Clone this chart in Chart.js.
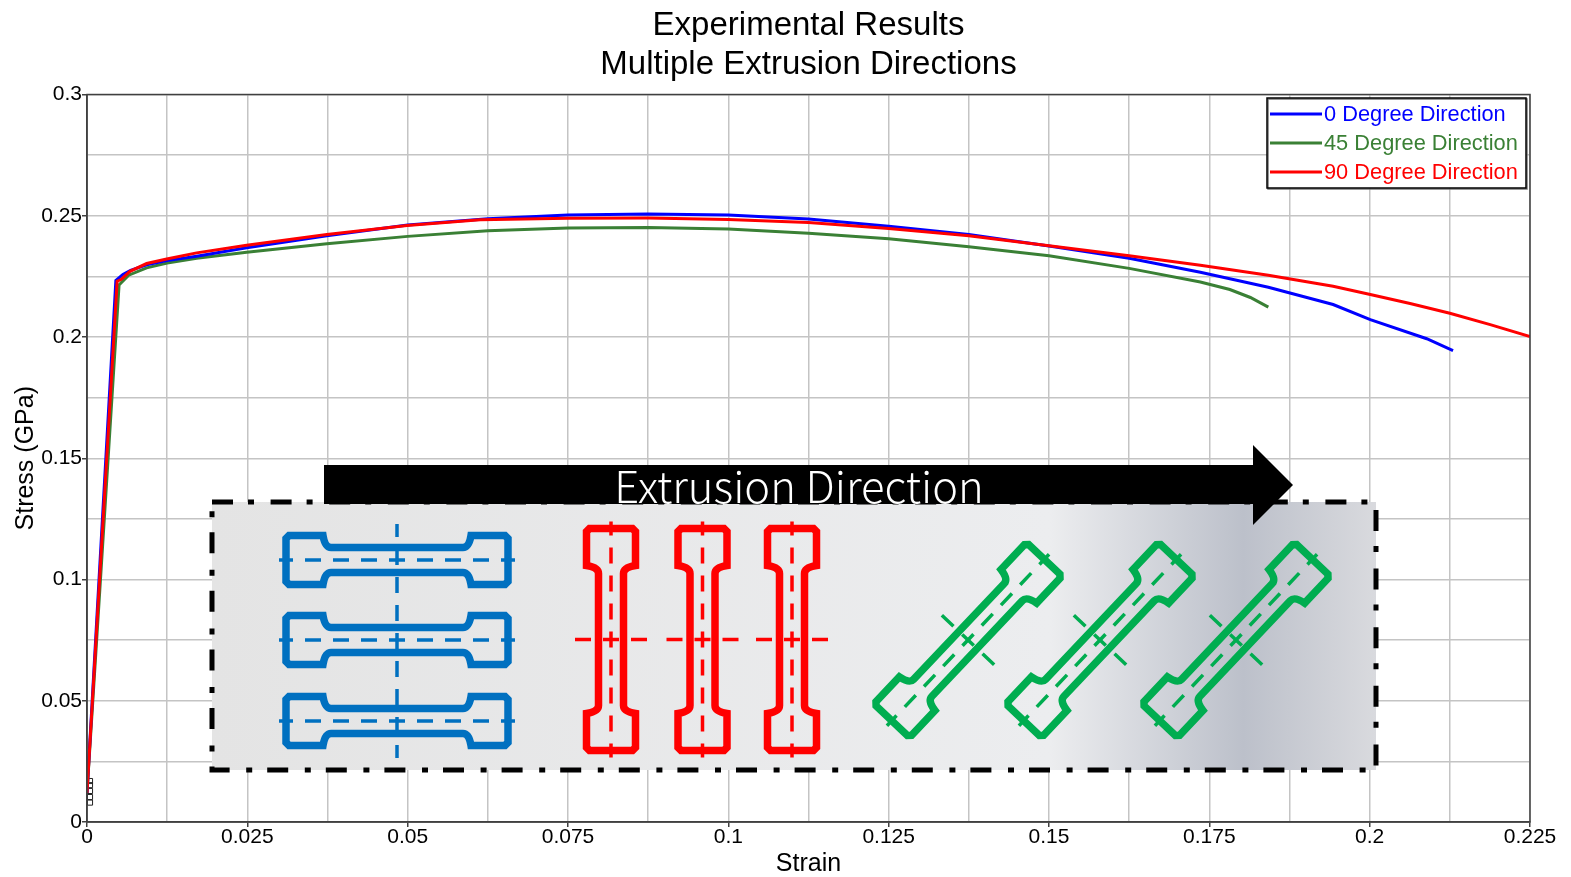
<!DOCTYPE html>
<html>
<head>
<meta charset="utf-8">
<title>Experimental Results</title>
<script src="https://cdn.jsdelivr.net/npm/chart.js@4"></script>
<style>
  html, body { margin: 0; padding: 0; background: #fff; }
  canvas { display: block; }
</style>
</head>
<body>
<canvas id="stressChart" width="1571" height="877"></canvas>
<script>
// values
var strain0 = [0, 0.0045, 0.0056, 0.0068, 0.0093, 0.0125, 0.0171, 0.0249, 0.0374, 0.05, 0.0625, 0.075, 0.0875, 0.1, 0.1125, 0.125, 0.1375, 0.15, 0.1625, 0.1736, 0.1842, 0.1943, 0.2001, 0.2089, 0.213];
var stress0 = [0.012, 0.2233, 0.2258, 0.2275, 0.2298, 0.2315, 0.2333, 0.2368, 0.2418, 0.2462, 0.2488, 0.2503, 0.2507, 0.2503, 0.2487, 0.2457, 0.2423, 0.2375, 0.2325, 0.2267, 0.2205, 0.2134, 0.2072, 0.1993, 0.1944];
var strain45 = [0, 0.005, 0.0065, 0.0093, 0.0125, 0.0171, 0.0249, 0.0374, 0.05, 0.0625, 0.075, 0.0875, 0.1, 0.1125, 0.125, 0.1375, 0.15, 0.1625, 0.1736, 0.1782, 0.1814, 0.1842];
var stress45 = [0.012, 0.2215, 0.2255, 0.2285, 0.2305, 0.2325, 0.235, 0.2385, 0.2415, 0.2438, 0.245, 0.2452, 0.2445, 0.2428, 0.2405, 0.2372, 0.2335, 0.2283, 0.2227, 0.2196, 0.2163, 0.2123];
var strain90 = [0, 0.0047, 0.0053, 0.0067, 0.0093, 0.01243, 0.0171, 0.0249, 0.0374, 0.0499, 0.0613, 0.075, 0.0875, 0.1, 0.1125, 0.125, 0.1375, 0.15, 0.1625, 0.1736, 0.1842, 0.1943, 0.2001, 0.2063, 0.2125, 0.2188, 0.225];
var stress90 = [0.012, 0.223, 0.2237, 0.2271, 0.2303, 0.2322, 0.2347, 0.2378, 0.2423, 0.246, 0.2484, 0.249, 0.2491, 0.2485, 0.2472, 0.2447, 0.2418, 0.2376, 0.2335, 0.2296, 0.2255, 0.2209, 0.2175, 0.2138, 0.2098, 0.2051, 0.2002];
var markerStrain = [0.00047, 0.00047, 0.00047, 0.00047, 0.00047];
var markerStress = [0.0169, 0.0152, 0.0128, 0.0103, 0.008];
var xTickLabels = ['0', '0.025', '0.05', '0.075', '0.1', '0.125', '0.15', '0.175', '0.2', '0.225'];
var yTickLabels = ['0', '0.05', '0.1', '0.15', '0.2', '0.25', '0.3'];
var seriesNames = ['0 Degree Direction', '45 Degree Direction', '90 Degree Direction'];

var fontName = '"Liberation Sans", Arial, sans-serif';
var BLUE = '#0000ff', GREEN = '#3a8035', RED = '#ff0000';

function points(xs, ys) {
  return xs.map(function (x, i) { return { x: x, y: ys[i] }; });
}

// tensile specimen outline, centred on 0,0 along the x direction
function specimen(ctx, cx, cy, deg, color) {
  var L = 111, G = 24.5, N = 12.5;
  ctx.save();
  ctx.translate(cx, cy);
  ctx.rotate(deg * Math.PI / 180);
  ctx.strokeStyle = color;
  ctx.lineWidth = 7.5;
  ctx.lineJoin = 'miter';
  ctx.beginPath();
  ctx.moveTo(-66, -N);
  ctx.lineTo(66, -N);
  ctx.quadraticCurveTo(72, -N, 74, -G);
  ctx.lineTo(L - 3, -G);
  ctx.lineTo(L, -G + 3);
  ctx.lineTo(L, G - 3);
  ctx.lineTo(L - 3, G);
  ctx.lineTo(74, G);
  ctx.quadraticCurveTo(72, N, 66, N);
  ctx.lineTo(-66, N);
  ctx.quadraticCurveTo(-72, N, -74, G);
  ctx.lineTo(-L + 3, G);
  ctx.lineTo(-L, G - 3);
  ctx.lineTo(-L, -G + 3);
  ctx.lineTo(-L + 3, -G);
  ctx.lineTo(-74, -G);
  ctx.quadraticCurveTo(-72, -N, -66, -N);
  ctx.closePath();
  ctx.stroke();
  centreLine(ctx, -118, 0, 118, 0, color);
  ctx.restore();
}

function centreLine(ctx, x0, y0, x1, y1, color) {
  var half = Math.hypot(x1 - x0, y1 - y0) / 2;
  ctx.save();
  ctx.strokeStyle = color;
  ctx.lineWidth = 3.5;
  ctx.setLineDash([16, 12]);
  ctx.lineDashOffset = 8 - half;
  ctx.beginPath();
  ctx.moveTo(x0, y0);
  ctx.lineTo(x1, y1);
  ctx.stroke();
  ctx.restore();
}

// the picture pasted over the plot: panel, arrow and specimens
var insetPlugin = {
  id: 'inset',
  afterDatasetsDraw: function (chart) {
    var ctx = chart.ctx;
    ctx.save();
    var g = ctx.createLinearGradient(212, 0, 1376, 0);
    g.addColorStop(0, '#e4e4e4');
    g.addColorStop(0.72, '#ecedef');
    g.addColorStop(0.886, '#bcc0ca');
    g.addColorStop(1, '#d9dade');
    ctx.fillStyle = g;
    ctx.fillRect(212, 502, 1164, 268);
    ctx.strokeStyle = '#000';
    ctx.lineWidth = 5;
    ctx.setLineDash([21, 15, 6, 16.6]);
    ctx.strokeRect(212, 502, 1164, 268);
    ctx.setLineDash([]);

    [560, 640, 721].forEach(function (y) { specimen(ctx, 397, y, 0, '#0070c0'); });
    centreLine(ctx, 397, 524, 397, 758, '#0070c0');
    [611, 702.5, 792].forEach(function (x) {
      specimen(ctx, x, 639.5, 90, '#ff0000');
      centreLine(ctx, x - 36, 639.5, x + 36, 639.5, '#ff0000');
    });
    [968, 1100, 1236].forEach(function (x) {
      specimen(ctx, x, 640, -46.6, '#00ad50');
      var dx = 36 * Math.cos(43.4 * Math.PI / 180), dy = 36 * Math.sin(43.4 * Math.PI / 180);
      centreLine(ctx, x - dx, 640 - dy, x + dx, 640 + dy, '#00ad50');
    });

    ctx.fillStyle = '#000';
    ctx.beginPath();
    ctx.moveTo(324, 465);
    ctx.lineTo(1253, 465);
    ctx.lineTo(1253, 445);
    ctx.lineTo(1293, 485);
    ctx.lineTo(1253, 525);
    ctx.lineTo(1253, 504);
    ctx.lineTo(324, 504);
    ctx.closePath();
    ctx.fill();
    ctx.fillStyle = '#fff';
    ctx.font = '300 43.5px "Noto Sans CJK JP", "Noto Sans", sans-serif';
    ctx.textAlign = 'center';
    ctx.textBaseline = 'alphabetic';
    ctx.fillText('Extrusion Direction', 799, 503);
    ctx.restore();
  },
  afterDraw: function (chart) {
    var ctx = chart.ctx, a = chart.chartArea;
    ctx.save();
    ctx.strokeStyle = '#404040';
    ctx.lineWidth = 1.5;
    ctx.strokeRect(a.left, a.top, a.right - a.left, a.bottom - a.top);

    // legend box
    ctx.fillStyle = '#fff';
    ctx.fillRect(1267, 98, 259, 90);
    ctx.strokeStyle = '#777';
    ctx.lineWidth = 1.5;
    ctx.strokeRect(1268, 99, 259, 90);
    ctx.strokeStyle = '#000';
    ctx.strokeRect(1267, 98, 259, 90);
    ctx.font = '21.8px ' + fontName;
    ctx.textBaseline = 'middle';
    ctx.textAlign = 'left';
    chart.data.datasets.forEach(function (d, i) {
      if (!d.label) return;
      var y = 114 + i * 29;
      ctx.strokeStyle = d.borderColor;
      ctx.lineWidth = 3;
      ctx.beginPath();
      ctx.moveTo(1270, y);
      ctx.lineTo(1322, y);
      ctx.stroke();
      ctx.fillStyle = d.borderColor;
      ctx.fillText(d.label, 1324, y + 1);
    });
    ctx.restore();
  }
};

var chart = new Chart(document.getElementById('stressChart').getContext('2d'), {
  type: 'scatter',
  data: {
    datasets: [
      { label: seriesNames[0], data: points(strain0, stress0), borderColor: BLUE, order: 2 },
      { label: seriesNames[1], data: points(strain45, stress45), borderColor: GREEN, order: 3 },
      { label: seriesNames[2], data: points(strain90, stress90), borderColor: RED, order: 1 },
      { data: points(markerStrain, markerStress), showLine: false, order: 4, pointStyle: 'rect', pointRadius: 3.6,
        pointBorderColor: '#222', pointBackgroundColor: 'rgba(255,255,255,0)', pointBorderWidth: 1 }
    ].map(function (d) {
      if (d.label) { d.showLine = true; d.pointRadius = 0; d.borderWidth = 3; d.tension = 0; d.fill = false; }
      return d;
    })
  },
  options: {
    responsive: false,
    animation: false,
    layout: { padding: { right: 41 } },
    plugins: {
      legend: { display: false },
      tooltip: { enabled: false },
      title: {
        display: true,
        fullSize: false,
        text: ['Experimental Results', 'Multiple Extrusion Directions'],
        color: '#000',
        font: { family: fontName, size: 33, weight: 'normal', lineHeight: 1.17 },
        padding: { top: 7, bottom: 10.3 }
      }
    },
    scales: {
      x: {
        type: 'linear',
        min: 0,
        max: 0.225,
        afterFit: function (s) { s.height = 55; },
        border: { color: '#404040', width: 1.5 },
        grid: {
          color: '#c4c4c4',
          lineWidth: 1.5,
          tickLength: 5,
          tickColor: function (c) { return c.index % 2 ? 'rgba(0,0,0,0)' : '#404040'; }
        },
        ticks: {
          stepSize: 0.0125,
          autoSkip: false,
          maxRotation: 0,
          padding: 0,
          color: '#000',
          font: { family: fontName, size: 21, lineHeight: 1 },
          callback: function (v, i) { return i % 2 ? '' : xTickLabels[i / 2]; }
        },
        title: {
          display: true,
          text: 'Strain',
          color: '#000',
          font: { family: fontName, size: 25, lineHeight: 1 },
          padding: { top: 0, bottom: 0 }
        }
      },
      y: {
        type: 'linear',
        min: 0,
        max: 0.3,
        afterFit: function (s) { s.width = 87; },
        border: { color: '#404040', width: 1.5 },
        grid: {
          color: '#c4c4c4',
          lineWidth: 1.5,
          tickLength: 5,
          tickColor: function (c) { return c.index % 2 ? 'rgba(0,0,0,0)' : '#404040'; }
        },
        ticks: {
          stepSize: 0.025,
          autoSkip: false,
          padding: 0,
          color: '#000',
          font: { family: fontName, size: 21, lineHeight: 1 },
          callback: function (v, i) { return i % 2 ? '' : yTickLabels[i / 2]; }
        },
        title: {
          display: true,
          text: 'Stress (GPa)',
          color: '#000',
          font: { family: fontName, size: 25 },
          padding: { top: 11, bottom: 0 }
        }
      }
    }
  },
  plugins: [insetPlugin]
});
</script>
</body>
</html>
